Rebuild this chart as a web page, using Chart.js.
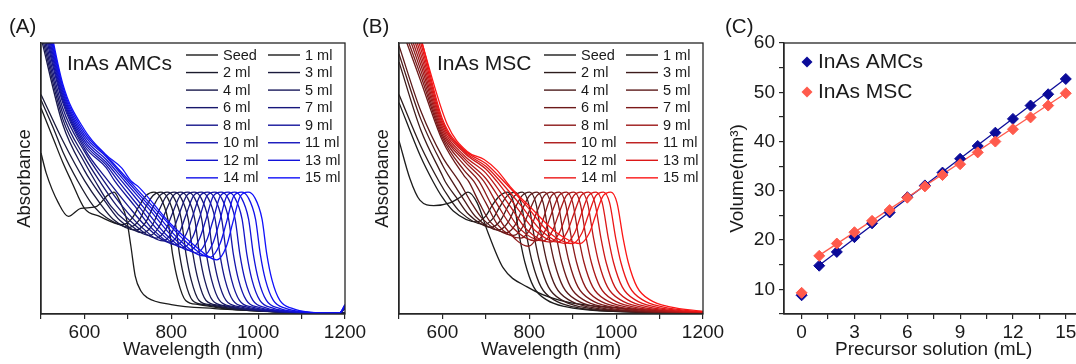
<!DOCTYPE html>
<html><head><meta charset="utf-8">
<script src="https://cdn.jsdelivr.net/npm/chart.js@4.4.1/dist/chart.umd.min.js"></script>
<style>
html,body{margin:0;padding:0;background:#fff;overflow:hidden;width:1076px;height:364px;position:relative;}
canvas{position:absolute;top:0;}
#ca{left:0px} #cb{left:358px} #cc{left:720px}
</style></head><body>
<canvas id="ca" width="380" height="364"></canvas>
<canvas id="cb" width="380" height="364"></canvas>
<canvas id="cc" width="380" height="364"></canvas>
<script>
// ---------- DATA ----------
const legendLabels = ['Seed','1 ml','2 ml','3 ml','4 ml','5 ml','6 ml','7 ml','8 ml','9 ml','10 ml','11 ml','12 ml','13 ml','14 ml','15 ml'];
const wavelengthTicks = [500,600,700,800,900,1000,1100,1200];
const wavelengthLabels = [600,800,1000,1200];

// Panel A: InAs AMCs spectra, [wavelength, absorbance] pairs
const A_Seed = [500,.594, 512,.52, 540,.41, 563,.36, 592,.39, 625,.395, 655,.44, 668,.45, 683,.41, 697,.35, 707,.25, 717,.14, 730,.085, 745,.06, 800,.035, 900,.02, 1000,.012, 1100,.005, 1200,.003];
const A_1 = [500,.76, 530,.64, 550,.56, 570,.49, 600,.39, 635,.36, 688,.33, 710,.354, 725,.396, 742,.437, 760,.45, 775,.43, 792,.35, 803,.22, 815,.125, 833,.05, 863,.035, 920,.02, 1050,.008, 1200,.003];
const A_2 = [500,.79, 530,.68, 550,.60, 585,.49, 620,.40, 651,.355, 704,.32, 726,.346, 741,.394, 758,.437, 776,.45, 791,.43, 808,.35, 819,.22, 831,.125, 849,.05, 879,.034, 936,.019, 1060,.007, 1200,.003];
const A_3 = [500,.81, 550,.64, 601,.49, 635,.41, 666,.35, 719,.31, 741,.338, 756,.388, 773,.436, 791,.45, 806,.43, 823,.35, 834,.22, 846,.125, 864,.05, 894,.033, 951,.018, 1070,.007, 1200,.003];
const A_4 = [500,1.02, 550,.70, 600,.53, 615,.49, 650,.41, 682,.345, 735,.30, 757,.33, 772,.383, 789,.436, 807,.45, 822,.43, 839,.35, 850,.22, 862,.125, 880,.05, 910,.032, 967,.017, 1080,.006, 1200,.003];
const A_5 = [500,1.04, 550,.72, 600,.56, 625,.49, 660,.40, 697,.34, 750,.29, 772,.322, 787,.378, 804,.436, 822,.45, 837,.43, 854,.35, 865,.22, 877,.125, 895,.05, 925,.03, 982,.015, 1090,.006, 1200,.003];
const A_6 = [500,1.06, 550,.74, 600,.58, 635,.49, 674,.40, 713,.333, 766,.28, 788,.314, 803,.373, 820,.436, 838,.45, 853,.43, 870,.35, 881,.22, 893,.125, 911,.05, 941,.028, 998,.013, 1100,.005, 1188,.004, 1200,.02];
const A_7 = [500,1.08, 550,.76, 600,.60, 645,.49, 686,.40, 728,.326, 781,.27, 803,.306, 818,.368, 835,.436, 853,.45, 868,.43, 885,.35, 896,.22, 908,.125, 926,.05, 956,.027, 1013,.012, 1110,.005, 1188,.004, 1200,.022];
const A_8 = [500,1.10, 550,.78, 600,.61, 655,.49, 700,.40, 744,.32, 797,.265, 819,.302, 834,.366, 851,.436, 869,.45, 884,.43, 901,.35, 912,.22, 924,.125, 942,.05, 972,.026, 1029,.011, 1120,.004, 1188,.004, 1200,.024];
const A_9 = [500,1.12, 550,.79, 600,.62, 650,.54, 670,.49, 715,.40, 759,.31, 812,.255, 834,.294, 849,.36, 866,.436, 884,.45, 899,.43, 916,.35, 927,.22, 939,.125, 957,.05, 987,.025, 1044,.01, 1125,.004, 1188,.004, 1200,.026];
const A_10 = [500,1.14, 550,.80, 600,.63, 650,.55, 678,.49, 726,.395, 775,.30, 828,.245, 850,.286, 865,.355, 882,.436, 900,.45, 915,.43, 932,.35, 943,.22, 955,.125, 973,.05, 1003,.024, 1060,.009, 1130,.004, 1188,.004, 1200,.028];
const A_11 = [500,1.16, 550,.81, 600,.64, 650,.56, 686,.49, 738,.39, 790,.29, 843,.235, 865,.278, 880,.35, 897,.436, 915,.45, 930,.43, 947,.35, 958,.22, 970,.125, 988,.05, 1018,.023, 1075,.008, 1140,.004, 1188,.004, 1200,.03];
const A_12 = [500,1.18, 550,.82, 600,.65, 650,.57, 693,.49, 750,.385, 806,.28, 859,.225, 881,.27, 896,.345, 913,.436, 931,.45, 946,.43, 963,.35, 974,.22, 986,.125, 1004,.05, 1034,.022, 1091,.007, 1150,.003, 1188,.004, 1200,.03];
const A_13 = [500,1.20, 550,.83, 600,.66, 650,.58, 699,.49, 760,.38, 821,.27, 874,.215, 896,.262, 911,.34, 928,.436, 946,.45, 961,.43, 978,.35, 989,.22, 1001,.125, 1019,.05, 1049,.021, 1106,.006, 1155,.003, 1188,.005, 1200,.032];
const A_14 = [500,1.22, 550,.84, 600,.67, 650,.585, 704,.49, 770,.375, 837,.262, 890,.21, 912,.258, 927,.338, 944,.436, 962,.45, 977,.43, 994,.35, 1005,.22, 1017,.125, 1035,.05, 1065,.02, 1122,.006, 1160,.003, 1188,.005, 1200,.034];
const A_15 = [500,1.24, 550,.85, 600,.68, 648,.59, 685,.54, 708,.49, 724,.47, 800,.33, 852,.255, 905,.20, 927,.25, 942,.34, 959,.435, 977,.45, 992,.43, 1009,.35, 1020,.22, 1032,.125, 1050,.05, 1080,.02, 1120,.006, 1160,.003, 1188,.005, 1200,.035];

// Panel B: InAs MSC spectra
const B_Seed = [500,.64, 525,.50, 548,.42, 580,.40, 617,.41, 640,.43, 659,.45, 680,.41, 705,.30, 740,.17, 795,.10, 871,.05, 1025,.02, 1200,.006];
const B_1 = [500,.78, 550,.58, 578,.49, 600,.43, 625,.38, 679,.34, 700,.362, 715,.402, 732,.436, 750,.45, 764,.41, 778,.28, 790,.19, 810,.10, 840,.052, 886,.026, 962,.012, 1200,.005];
const B_2 = [500,.81, 550,.62, 592,.49, 615,.43, 642,.375, 696,.33, 717,.354, 732,.395, 749,.436, 767,.45, 781,.41, 795,.28, 807,.19, 827,.10, 857,.052, 903,.026, 979,.011, 1200,.005];
const B_3 = [500,.93, 550,.68, 600,.51, 606,.49, 632,.43, 659,.37, 713,.32, 734,.346, 749,.391, 766,.436, 784,.45, 798,.41, 812,.28, 824,.19, 844,.10, 874,.052, 920,.026, 996,.011, 1200,.005];
const B_4 = [500,.96, 550,.72, 600,.55, 622,.49, 650,.42, 676,.36, 730,.31, 751,.338, 766,.387, 783,.436, 801,.45, 815,.41, 829,.28, 841,.19, 861,.10, 891,.052, 937,.026, 1013,.011, 1200,.005];
const B_5 = [500,.99, 550,.75, 600,.58, 638,.49, 665,.415, 693,.35, 747,.30, 768,.33, 783,.383, 800,.436, 818,.45, 832,.41, 846,.28, 858,.19, 878,.10, 908,.052, 954,.026, 1030,.01, 1200,.005];
const B_6 = [500,1.08, 550,.86, 600,.64, 650,.51, 660,.49, 685,.41, 710,.34, 764,.29, 785,.322, 800,.38, 817,.436, 835,.45, 849,.41, 863,.28, 875,.19, 895,.10, 925,.052, 971,.026, 1047,.01, 1200,.005];
const B_7 = [500,1.10, 550,.88, 600,.65, 650,.53, 672,.49, 700,.41, 727,.33, 781,.28, 802,.314, 817,.375, 834,.436, 852,.45, 866,.41, 880,.28, 892,.19, 912,.10, 942,.052, 988,.026, 1064,.01, 1200,.005];
const B_8 = [500,1.13, 550,.90, 600,.66, 650,.55, 684,.49, 714,.40, 744,.32, 798,.25, 819,.29, 834,.36, 851,.436, 869,.45, 883,.41, 897,.28, 909,.19, 929,.10, 959,.052, 1005,.026, 1081,.01, 1200,.006];
const B_9 = [500,1.15, 550,.92, 600,.67, 650,.565, 695,.49, 728,.40, 761,.32, 815,.27, 836,.306, 851,.37, 868,.436, 886,.45, 900,.41, 914,.28, 926,.19, 946,.10, 976,.052, 1022,.026, 1098,.01, 1200,.006];
const B_10 = [500,1.18, 550,.94, 600,.68, 650,.575, 700,.50, 742,.40, 778,.315, 832,.27, 853,.306, 868,.37, 885,.436, 903,.45, 917,.41, 931,.28, 943,.19, 963,.10, 993,.052, 1039,.026, 1115,.01, 1200,.006];
const B_11 = [500,1.20, 550,.96, 600,.69, 650,.585, 700,.52, 715,.49, 755,.40, 795,.31, 849,.265, 870,.302, 885,.367, 902,.436, 920,.45, 934,.41, 948,.28, 960,.19, 980,.10, 1010,.052, 1056,.026, 1132,.01, 1200,.006];
const B_12 = [500,1.23, 550,.98, 600,.70, 650,.595, 700,.535, 725,.49, 768,.40, 812,.31, 866,.265, 887,.302, 902,.367, 919,.436, 937,.45, 951,.41, 965,.28, 977,.19, 997,.10, 1027,.052, 1073,.026, 1149,.01, 1200,.007];
const B_13 = [500,1.25, 550,1.0, 600,.71, 650,.60, 700,.545, 733,.49, 781,.40, 829,.305, 883,.26, 904,.298, 919,.365, 936,.436, 954,.45, 968,.41, 982,.28, 994,.19, 1014,.10, 1044,.052, 1090,.026, 1166,.01, 1200,.008];
const B_14 = [500,1.28, 550,1.02, 600,.72, 650,.605, 700,.555, 741,.49, 793,.40, 846,.30, 900,.26, 921,.298, 936,.365, 953,.436, 971,.45, 985,.41, 999,.28, 1011,.19, 1031,.10, 1061,.052, 1107,.026, 1183,.01, 1200,.009];
const B_15 = [500,1.30, 553,1.0, 611,.70, 657,.60, 696,.57, 726,.53, 756,.47, 805,.39, 863,.30, 917,.26, 938,.298, 953,.365, 970,.436, 988,.45, 1002,.41, 1016,.28, 1028,.19, 1048,.10, 1078,.052, 1124,.026, 1200,.01];

// Panel C
const precursorML = [0,1,2,3,4,5,6,7,8,9,10,11,12,13,14,15];
const volAMCs = [8.8,14.8,17.6,20.6,23.4,25.6,28.7,31.1,33.7,36.5,39.1,41.8,44.6,47.3,49.6,52.7];
const volMSC  = [9.3,16.8,19.3,21.6,23.9,26.1,28.6,30.9,33.2,35.4,37.8,40.0,42.5,44.9,47.3,49.8];
const fitAMCs = [[1,14.9],[15,52.8]];
const fitMSC  = [[1,16.9],[15,49.8]];
const cXTicks = [0,1.5,3,4.5,6,7.5,9,10.5,12,13.5,15];
const cXLabels = [0,3,6,9,12,15];
const cYTicks = [5,10,15,20,25,30,35,40,45,50,55,60];
const cYLabels = [10,20,30,40,50,60];

// ---------- STYLE ----------
const FONT = '"Liberation Sans", Arial, Helvetica, sans-serif';
const TXT = '#1a1a1a', AX = '#262626';
const C_BLUE = '#0b0b99', C_RED = '#ff5a4c';
Chart.defaults.font.family = FONT;
Chart.defaults.color = TXT;

const specA = [A_Seed,A_1,A_2,A_3,A_4,A_5,A_6,A_7,A_8,A_9,A_10,A_11,A_12,A_13,A_14,A_15];
const specB = [B_Seed,B_1,B_2,B_3,B_4,B_5,B_6,B_7,B_8,B_9,B_10,B_11,B_12,B_13,B_14,B_15];

function toPts(flat){ const p=[]; for(let i=0;i<flat.length;i+=2) p.push({x:flat[i],y:flat[i+1]}); return p; }
function blueShade(i){ if(i<=1) return 'rgb(28,28,28)'; const t=(i-1)/14; const rg=Math.round(28-12*t), b=Math.round(28+222*t); return `rgb(${rg},${rg},${b})`; }
function redShade(i){ if(i<=1) return 'rgb(28,28,28)'; const t=(i-1)/14; const r=Math.round(28+224*t), gb=Math.round(28-6*t); return `rgb(${r},${gb},${gb})`; }

function specDeco(panel, panelX, inset, insetDx){
  return {id:'specDeco', afterDraw(chart){
    const ctx = chart.ctx, a = chart.chartArea;
    ctx.save();
    ctx.strokeStyle = AX; ctx.lineWidth = 1.3;
    ctx.strokeRect(a.left, a.top, a.right-a.left, a.bottom-a.top);
    ctx.fillStyle = TXT; ctx.textAlign = 'left'; ctx.textBaseline = 'middle';
    ctx.font = '20.5px ' + FONT; ctx.fillText(panel, panelX, 27);
    ctx.font = '21px ' + FONT; ctx.fillText(inset, a.left + insetDx, 64);
    ctx.font = '14.5px ' + FONT;
    chart.data.datasets.forEach((ds,i)=>{
      const col = i%2, row = Math.floor(i/2);
      const x0 = a.left + (col ? 227 : 145), y = 55 + row*17.55;
      ctx.strokeStyle = ds.borderColor; ctx.lineWidth = 1.4;
      ctx.beginPath(); ctx.moveTo(x0, y); ctx.lineTo(x0+32, y); ctx.stroke();
      ctx.fillText(ds.label, x0+37, y+0.5);
    });
    ctx.restore();
  }};
}

function spectraChart(id, list, shade, panel, panelX, inset, insetDx){
  const datasets = list.map((arr,i)=>({
    label: legendLabels[i], data: toPts(arr), borderColor: shade(i), borderWidth: 1.3,
    pointRadius: 0, fill: false, cubicInterpolationMode: 'monotone', order: 20 - i
  }));
  return new Chart(document.getElementById(id), {
    type: 'line', data: {datasets},
    options: {
      responsive: false, animation: false, devicePixelRatio: 1, events: [],
      layout: {padding: {left: 0, top: 43, right: 35, bottom: 0}},
      plugins: {legend: {display: false}, tooltip: {enabled: false}},
      scales: {
        x: {type: 'linear', min: 500, max: 1200,
          afterFit(s){ s.height = 50; },
          afterBuildTicks(s){ s.ticks = wavelengthTicks.map(v=>({value:v})); },
          ticks: {autoSkip: false, maxRotation: 0, padding: 2, font: {size: 19}, color: TXT,
            callback: v => wavelengthLabels.includes(v) ? String(v) : ''},
          grid: {display: true, drawOnChartArea: false, drawTicks: true, tickLength: 5, color: AX, lineWidth: 1.2},
          border: {display: true, color: AX, width: 1.3},
          title: {display: true, text: 'Wavelength (nm)', font: {size: 18.5}, color: TXT, padding: {top: 0, bottom: 3}}},
        y: {type: 'linear', min: 0, max: 1,
          afterFit(s){ s.width = 41; },
          ticks: {display: false}, grid: {display: false},
          border: {display: true, color: AX, width: 1.3},
          title: {display: true, text: 'Absorbance', font: {size: 18.5}, color: TXT, padding: {top: 14, bottom: 0}}}
      }
    },
    plugins: [specDeco(panel, panelX, inset, insetDx)]
  });
}

spectraChart('ca', specA, blueShade, '(A)', 9, 'InAs AMCs', 26);
spectraChart('cb', specB, redShade, '(B)', 4, 'InAs MSC', 38);

// Panel C
const cDeco = {id:'cDeco', afterDraw(chart){
  const ctx = chart.ctx, a = chart.chartArea;
  ctx.save();
  ctx.strokeStyle = AX; ctx.lineWidth = 1.3;
  ctx.strokeRect(a.left, a.top, a.right-a.left, a.bottom-a.top);
  ctx.fillStyle = TXT; ctx.textAlign = 'left'; ctx.textBaseline = 'middle';
  ctx.font = '20.5px ' + FONT; ctx.fillText('(C)', 5, 27);
  const items = [['InAs AMCs', C_BLUE, 62], ['InAs MSC', C_RED, 92]];
  items.forEach(([t,c,y])=>{
    const x = 87, r = 5.5;
    ctx.fillStyle = c; ctx.beginPath();
    ctx.moveTo(x, y-r); ctx.lineTo(x+r, y); ctx.lineTo(x, y+r); ctx.lineTo(x-r, y); ctx.closePath(); ctx.fill();
    ctx.fillStyle = TXT; ctx.font = '21px ' + FONT; ctx.fillText(t, x+11, y);
  });
  ctx.restore();
}};

new Chart(document.getElementById('cc'), {
  type: 'line',
  data: {datasets: [
    {label: 'InAs MSC', data: precursorML.map((x,i)=>({x, y: volMSC[i]})), showLine: false,
     pointStyle: 'rectRot', pointRadius: 5.5, pointBackgroundColor: C_RED, pointBorderColor: C_RED, pointBorderWidth: 1, order: 0},
    {label: 'InAs AMCs', data: precursorML.map((x,i)=>({x, y: volAMCs[i]})), showLine: false,
     pointStyle: 'rectRot', pointRadius: 5.5, pointBackgroundColor: C_BLUE, pointBorderColor: C_BLUE, pointBorderWidth: 1, order: 1},
    {label: 'fit MSC', data: fitMSC.map(p=>({x:p[0], y:p[1]})), borderColor: C_RED, borderWidth: 1.3, pointRadius: 0, order: 2},
    {label: 'fit AMCs', data: fitAMCs.map(p=>({x:p[0], y:p[1]})), borderColor: C_BLUE, borderWidth: 1.3, pointRadius: 0, order: 3}
  ]},
  options: {
    responsive: false, animation: false, devicePixelRatio: 1, events: [],
    layout: {padding: {left: 0, top: 43, right: 16.6, bottom: 0}},
    plugins: {legend: {display: false}, tooltip: {enabled: false}},
    scales: {
      x: {type: 'linear', min: -1, max: 16,
        afterFit(s){ s.height = 50; },
        afterBuildTicks(s){ s.ticks = cXTicks.map(v=>({value:v})); },
        ticks: {autoSkip: false, maxRotation: 0, padding: 2, font: {size: 19}, color: TXT,
          callback: v => cXLabels.includes(v) ? String(v) : ''},
        grid: {display: true, drawOnChartArea: false, drawTicks: true, tickLength: 5, color: AX, lineWidth: 1.2},
        border: {display: true, color: AX, width: 1.3},
        title: {display: true, text: 'Precursor solution (mL)', font: {size: 19}, color: TXT, padding: {top: 0, bottom: 3}}},
      y: {type: 'linear', min: 5, max: 60,
        afterFit(s){ s.width = 64; },
        afterBuildTicks(s){ s.ticks = cYTicks.map(v=>({value:v})); },
        ticks: {autoSkip: false, padding: 4, font: {size: 19}, color: TXT,
          callback: v => cYLabels.includes(v) ? String(v) : ''},
        grid: {display: true, drawOnChartArea: false, drawTicks: true, tickLength: 5, color: AX, lineWidth: 1.2},
        border: {display: true, color: AX, width: 1.3},
        title: {display: true, text: 'Volume(nm³)', font: {size: 19}, color: TXT, padding: {top: 6.6, bottom: 0}}}
    }
  },
  plugins: [cDeco]
});
</script>
</body></html>
